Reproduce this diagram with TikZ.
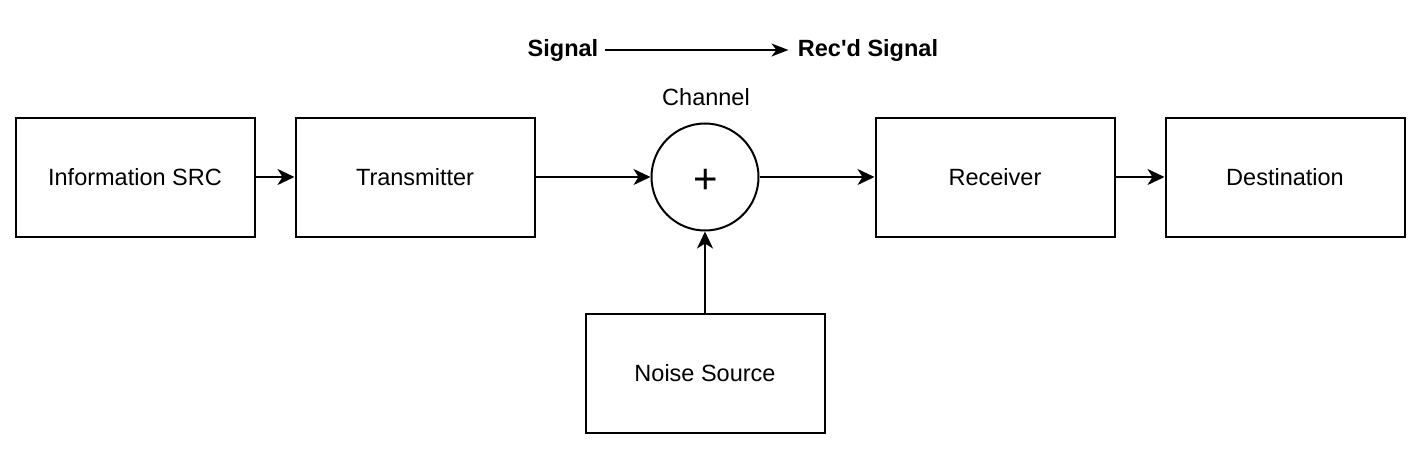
\documentclass[tikz,border=0pt]{standalone}
\usepackage{fontspec}
\setmainfont{Liberation Sans}
\usetikzlibrary{arrows.meta}
\usetikzlibrary{calc}
\usetikzlibrary{positioning}
\newcommand{\straightquote}{\XeTeXglyph\XeTeXcharglyph"0027\relax}

\begin{document}
\begin{tikzpicture}[x=1pt,y=-1pt,
		block/.style={draw,line width=2pt,minimum width=239pt,minimum height=119pt,inner sep=0pt,font=\fontsize{23.5}{28}\selectfont},
		adder/.style={draw,circle,line width=2pt,minimum size=107pt,inner sep=0pt},
		flow/.style={line width=2pt,-{Stealth[length=17pt,width=16pt,inset=5pt]}},
		lbl/.style={font=\fontsize{23.5}{28}\selectfont}]
				\useasboundingbox (0,0) rectangle (1422,452);

				\coordinate(p) at (135, 177);
				\coordinate(q) at (415, 177);
				\coordinate(s) at (705, 177);
				\coordinate(r) at (995, 177);
				\coordinate(t) at (1285, 177);
				\coordinate(n) at (705, 373);

				\node[block] (src) at (p) {Information SRC};
				\node[block] (tx) at (q) {Transmitter};
				\node[adder] (ch) at (s) {};
				\node[font=\fontsize{42}{46}\selectfont] (plus) at ($(s)+(1,4)$) {+};
				\node[block] (rx) at (r) {Receiver};
				\node[block] (dst) at (t) {Destination};
				\node[block] (ns) at (n) {Noise Source};

				\node[lbl] (chl) at (706, 97) {Channel};
				\node[lbl,font=\fontsize{23.5}{28}\selectfont\bfseries] (sig) at (563, 50) {Signal};
				\node[lbl,font=\fontsize{23.5}{28}\selectfont\bfseries] (rsig) at (868, 50) {Rec\straightquote d Signal};

				\draw[flow] (src)--(tx);
				\draw[flow] (tx)--(ch);
				\draw[flow] (ch)--(rx);
				\draw[flow] (rx)--(dst);
				\draw[flow] (ns)--(ch);
				\draw[line width=1.5pt,-{Stealth[length=17pt,width=13pt,inset=5pt]},shorten <=3pt,shorten >=6pt] (sig)--(rsig);

			\end{tikzpicture}
\end{document}
